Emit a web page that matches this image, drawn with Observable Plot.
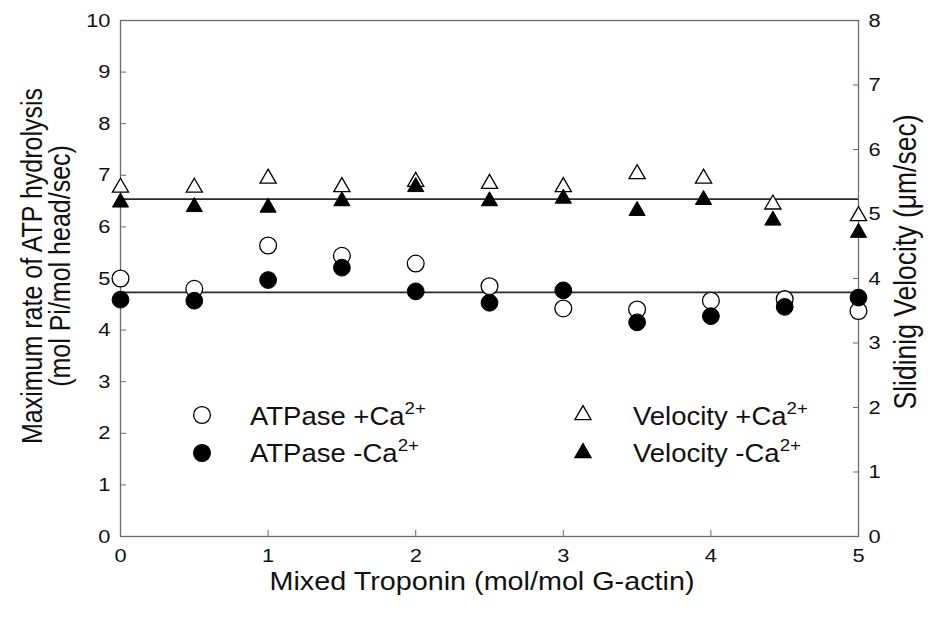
<!DOCTYPE html>
<html>
<head>
<meta charset="utf-8">
<script src="https://cdn.jsdelivr.net/npm/d3@7"></script>
<script src="https://cdn.jsdelivr.net/npm/@observablehq/plot@0.6"></script>
<style>
  html, body { margin: 0; padding: 0; background: #fff; }
  #chart { width: 930px; height: 617px; }
</style>
</head>
<body>
<div id="chart"></div>
<script>
// Mixed troponin added (mol/mol G-actin) for the ATPase measurements
const troponin = [0, 0.5, 1, 1.5, 2, 2.5, 3, 3.5, 4, 4.5, 5];
// Maximum rate of ATP hydrolysis (mol Pi/mol head/sec)
const atpasePlusCa  = [5.00, 4.80, 5.64, 5.44, 5.29, 4.85, 4.42, 4.40, 4.57, 4.60, 4.37];
const atpaseMinusCa = [4.59, 4.57, 4.97, 5.21, 4.75, 4.53, 4.77, 4.15, 4.27, 4.45, 4.63];

// Mixed troponin added for the sliding velocity measurements
const velocityTroponin = [0, 0.5, 1, 1.5, 2, 2.5, 3, 3.5, 3.95, 4.42, 5];
// Sliding velocity (µm/sec)
const velocityPlusCa  = [5.41, 5.41, 5.55, 5.42, 5.50, 5.47, 5.42, 5.62, 5.55, 5.15, 4.97];
const velocityMinusCa = [5.18, 5.11, 5.10, 5.20, 5.42, 5.20, 5.24, 5.05, 5.22, 4.90, 4.71];

// Average levels drawn as horizontal reference lines
const atpaseMean = 4.73;
const velocityMean = 5.23;

// Axis ticks
const xTicks = [0, 1, 2, 3, 4, 5];
const atpaseTicks = [0, 1, 2, 3, 4, 5, 6, 7, 8, 9, 10];
const velocityTicks = [0, 1, 2, 3, 4, 5, 6, 7, 8];

// Titles and legend entries
const xTitle = "Mixed Troponin (mol/mol G-actin)";
const leftTitle = ["Maximum rate of ATP hydrolysis", "(mol Pi/mol head/sec)"];
const rightTitle = "Slidinig Velocity (\u03bcm/sec)";
const legendLabels = ["ATPase +Ca", "ATPase -Ca", "Velocity +Ca", "Velocity -Ca"];
const legendSup = "2+";

// The right axis (0–8 µm/sec) shares the plot height with the left axis (0–10)
const atpaseMax = 10, velocityMax = 8;
const toLeftUnits = v => v * atpaseMax / velocityMax;

const atpaseRows = troponin.map((t, i) => ({t, plus: atpasePlusCa[i], minus: atpaseMinusCa[i]}));
const velocityRows = velocityTroponin.map((t, i) => ({
  t, plus: toLeftUnits(velocityPlusCa[i]), minus: toLeftUnits(velocityMinusCa[i])
}));

const font = "'Liberation Sans', Arial, Helvetica, sans-serif";
const axisGray = "#6b6b6b";
const ink = "#111";
const triR = 6, circR = 8.4;
// The lettering in this figure is set slightly wide
const stretch = 1.15;

const chart = Plot.plot({
  width: 930,
  height: 617,
  marginLeft: 120,
  marginRight: 72,
  marginTop: 20,
  marginBottom: 81,
  style: {fontFamily: font, fontSize: "19px", color: ink, background: "#fff"},
  x: {domain: [0, 5]},
  y: {domain: [0, atpaseMax]},
  marks: [
    Plot.frame({stroke: axisGray, strokeWidth: 1.3}),
    Plot.axisX({ticks: xTicks, tickFormat: d => String(d), tickSize: -6, tickPadding: 18, label: null, stroke: axisGray, fill: ink}),
    Plot.axisY({ticks: atpaseTicks, anchor: "left", tickFormat: d => String(d), tickSize: -6, tickPadding: 16, label: null, stroke: axisGray, fill: ink}),
    Plot.axisY({
      ticks: velocityTicks.map(toLeftUnits), anchor: "right", tickSize: -6, tickPadding: 16,
      tickFormat: d => String(Math.round(d * velocityMax / atpaseMax)), label: null, stroke: axisGray, fill: ink
    }),
    Plot.ruleY([atpaseMean], {stroke: "#2a2a2a", strokeWidth: 1.7}),
    Plot.ruleY([toLeftUnits(velocityMean)], {stroke: "#2a2a2a", strokeWidth: 1.7}),
    Plot.dot(atpaseRows, {x: "t", y: "plus", r: circR, fill: "#fff", stroke: "#000", strokeWidth: 1.3}),
    Plot.dot(velocityRows, {x: "t", y: "plus", r: triR, symbol: "triangle", fill: "#fff", stroke: "#000", strokeWidth: 1.3}),
    Plot.dot(atpaseRows, {x: "t", y: "minus", r: circR, fill: "#000", stroke: "#000", strokeWidth: 1}),
    Plot.dot(velocityRows, {x: "t", y: "minus", r: triR, symbol: "triangle", fill: "#000", stroke: "#000", strokeWidth: 1})
  ]
});

document.getElementById("chart").appendChild(chart);
const svg = d3.select(chart);

// Widen the tick labels to the figure's lettering
svg.selectAll('g[aria-label$="tick label"] text').each(function () {
  const tr = this.getAttribute("transform") || "";
  this.setAttribute("transform", tr + ` scale(${stretch},1)`);
});

// Axis titles
const titles = svg.append("g").attr("font-family", font).attr("fill", ink).attr("text-anchor", "middle");
titles.append("text")
  .attr("transform", `translate(482,581) scale(${stretch},1)`)
  .attr("dy", "0.35em").attr("font-size", 25).text(xTitle);
leftTitle.forEach((line, i) => {
  titles.append("text")
    .attr("transform", `translate(${32 + i * 28},266) rotate(-90) scale(1,${stretch})`)
    .attr("dy", "0.35em").attr("font-size", 25).text(line);
});
titles.append("text")
  .attr("transform", `translate(905,262) rotate(-90) scale(1,${stretch})`)
  .attr("dy", "0.35em").attr("font-size", 26.5).text(rightTitle);

// Legend: two columns of symbol + label with superscript charge
const legend = svg.append("g").attr("font-family", font).attr("fill", ink).attr("text-anchor", "start");
const legendItems = [
  {label: legendLabels[0], shape: d3.symbolCircle, size: Math.PI * circR * circR, fill: "#fff", sx: 202, sy: 415, tx: 250, ty: 425},
  {label: legendLabels[1], shape: d3.symbolCircle, size: Math.PI * circR * circR, fill: "#000", sx: 202, sy: 453, tx: 250, ty: 462},
  {label: legendLabels[2], shape: d3.symbolTriangle, size: Math.PI * triR * triR, fill: "#fff", sx: 583, sy: 415, tx: 633, ty: 425},
  {label: legendLabels[3], shape: d3.symbolTriangle, size: Math.PI * triR * triR, fill: "#000", sx: 583, sy: 453, tx: 633, ty: 462}
];
for (const item of legendItems) {
  legend.append("path")
    .attr("d", d3.symbol(item.shape, item.size)())
    .attr("transform", `translate(${item.sx},${item.sy})`)
    .attr("fill", item.fill)
    .attr("stroke", "#000")
    .attr("stroke-width", 1.3);
  const t = legend.append("text")
    .attr("transform", `translate(${item.tx},${item.ty}) scale(1.1,1)`)
    .attr("font-size", 25);
  t.append("tspan").text(item.label);
  t.append("tspan").attr("font-size", 17).attr("dy", -11).text(legendSup);
}
</script>
</body>
</html>
